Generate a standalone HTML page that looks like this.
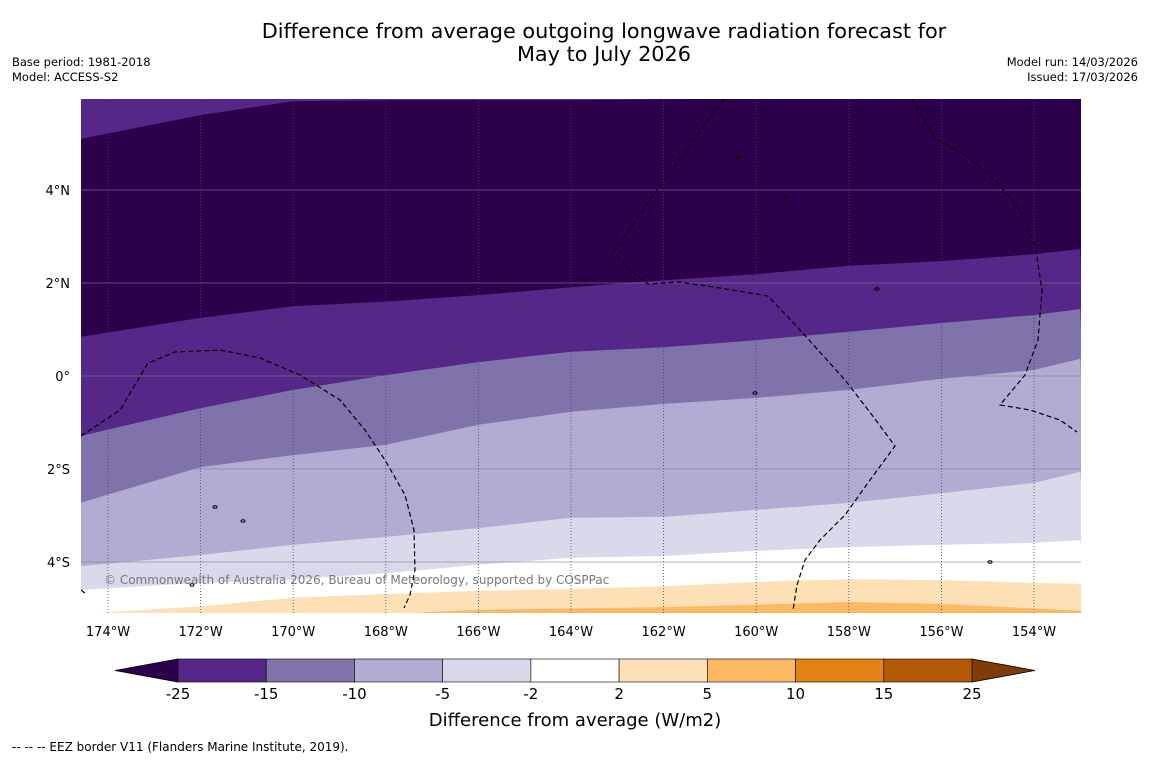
<!DOCTYPE html>
<html><head><meta charset="utf-8"><style>
body{margin:0;background:#fff;font-family:"Liberation Sans","DejaVu Sans",sans-serif;}
svg text{font-family:"DejaVu Sans","Liberation Sans",sans-serif;}
</style></head><body>
<svg id="chart" width="1150" height="758" xmlns="http://www.w3.org/2000/svg">
<rect width="1150" height="758" fill="#fff"/>
<text x="604" y="38" font-size="20.8" text-anchor="middle">Difference from average outgoing longwave radiation forecast for</text>
<text x="604" y="61" font-size="20.8" text-anchor="middle">May to July 2026</text>
<text x="12" y="66" font-size="11.5">Base period: 1981-2018</text>
<text x="12" y="81" font-size="11.5">Model: ACCESS-S2</text>
<text x="1138" y="66" font-size="11.5" text-anchor="end">Model run: 14/03/2026</text>
<text x="1138" y="81" font-size="11.5" text-anchor="end">Issued: 17/03/2026</text>
<defs><clipPath id="mapclip"><rect x="81" y="99" width="1000" height="514"/></clipPath></defs>
<g id="map" clip-path="url(#mapclip)"></g>
<g id="axes"></g>
<g id="cbar"></g>
<text x="575" y="726" font-size="18" text-anchor="middle">Difference from average (W/m2)</text>
<text x="12" y="751" font-size="12">--  --  -- EEZ border V11 (Flanders Marine Institute, 2019).</text>
</svg>
<script>
const lons = [-174.6,-172,-170,-168,-166,-164,-162,-160,-158,-156,-154,-153];
const topBoundary = [5.1,5.61,5.91,5.93,5.93,5.93,5.95,5.97,5.97,5.97,5.97,5.97];
const b_m25_m15 = [0.84,1.25,1.5,1.6,1.74,1.91,2.06,2.19,2.37,2.47,2.62,2.73];
const b_m15_m10 = [-1.29,-0.69,-0.3,0.02,0.3,0.52,0.62,0.77,0.95,1.14,1.31,1.44];
const b_m10_m5 = [-2.73,-1.96,-1.7,-1.48,-1.05,-0.77,-0.6,-0.47,-0.3,-0.06,0.13,0.37];
const b_m5_m2 = [-4.09,-3.85,-3.63,-3.46,-3.27,-3.05,-3.03,-2.88,-2.73,-2.52,-2.3,-2.06];
const b_m2_2 = [-4.6,-4.45,-4.37,-4.24,-4.06,-3.91,-3.87,-3.76,-3.68,-3.63,-3.59,-3.53];
const b_2_5 = [-5.12,-4.95,-4.77,-4.69,-4.62,-4.58,-4.52,-4.43,-4.37,-4.39,-4.45,-4.47];
const b_5_10 = [-5.3,-5.3,-5.2,-5.12,-5.03,-5.0,-4.97,-4.92,-4.86,-4.9,-5.0,-5.05];
const lonTicks = [-174,-172,-170,-168,-166,-164,-162,-160,-158,-156,-154];
const latTicks = [4,2,0,-2,-4];
const cbLevels = ["-25","-15","-10","-5","-2","2","5","10","15","25"];
const cbColors = ["#542788","#8073ac","#b2abd2","#d8daeb","#ffffff","#fee0b6","#fdb863","#e08214","#b35806"];

const NS="http://www.w3.org/2000/svg";
const X = lon => 108 + (lon + 174) * 46.3;
const Y = lat => 376 - lat * 46.5;
function mk(tag, attrs, parent){const e=document.createElementNS(NS,tag);for(const k in attrs)e.setAttribute(k,attrs[k]);parent.appendChild(e);return e;}
const map=document.getElementById('map');
const axes=document.getElementById('axes');
function line(b){return lons.map((l,i)=>X(l).toFixed(1)+','+Y(b[i]).toFixed(1)).join(' L');}
let bg=mk('rect',{x:81,y:99,width:1000,height:514,fill:'#2d004b'},map);


let tp=mk('path',{d:'M'+line(topBoundary)+' L1090,90 L70,90 Z',fill:'#542788'},map);


const bands=[[b_m25_m15,'#542788'],[b_m15_m10,'#8073ac'],[b_m10_m5,'#b2abd2'],[b_m5_m2,'#d8daeb'],[b_m2_2,'#ffffff'],[b_2_5,'#fee0b6'],[b_5_10,'#fdb863']];
bands.forEach((b,i)=>{
  const p=mk('path',{d:'M'+line(b[0])+' L1090,620 L70,620 Z',fill:b[1]},map);
  
  
});
latTicks.forEach(t=>{
  const l=mk('line',{x1:81,x2:1081,y1:Y(t),y2:Y(t),stroke:'#808090','stroke-width':0.7,'stroke-opacity':0.8},map);
  
  
  const tx=mk('text',{x:70,y:Y(t)+5,'font-size':13,'text-anchor':'end'},axes);
  tx.textContent=t===0?'0°':Math.abs(t)+'°'+(t>0?'N':'S');
  
  
});
lonTicks.forEach(t=>{
  const l=mk('line',{x1:X(t),x2:X(t),y1:99,y2:613,stroke:'#44448a','stroke-width':0.8,'stroke-dasharray':'1,2'},map);
  
  
  const tx=mk('text',{x:X(t),y:636,'font-size':13,'text-anchor':'middle'},axes);
  tx.textContent=Math.abs(t)+'°W';
  
  
});
const eez=["M81,436 L120,410 L148,363 L175,352 L220,350 L260,358 L300,375 L340,400 L365,430 L385,460 L405,495 L414,530 L415,570 L410,595 L404,608",
"M724,99 L690,145 L650,200 L614,252 L630,270 L648,284 L680,282 L720,288 L768,296 L800,330 L845,380 L872,415 L895,446 L870,480 L845,515 L820,540 L805,560 L797,585 L793,610",
"M912,99 L935,138 L965,155 L995,180 L1020,210 L1035,245 L1042,290 L1038,340 L1025,375 L1000,405 L1030,410 L1060,420 L1077,432",
"M81,590 L86,594"];
eez.forEach(d=>{const p=mk('path',{d:d,fill:'none',stroke:'#000','stroke-width':1.2,'stroke-dasharray':'5,3'},map);

});
[[215,507],[243,521],[192,585],[786,197],[877,289],[738,157],[990,562],[755,393]].forEach(c=>{
const e=mk('ellipse',{cx:c[0],cy:c[1],rx:2,ry:1.3,fill:'none',stroke:'#000','stroke-width':1},map);

});
const cp=mk('text',{x:104,y:584,'font-size':12,fill:'#777'},map);
cp.textContent='© Commonwealth of Australia 2026, Bureau of Meteorology, supported by COSPPac';


const cb=document.getElementById('cbar');
const x0=178,x1=972,cy0=659,cy1=682,w=(x1-x0)/cbColors.length;
const lt=mk('path',{d:`M${x0},${cy0} L115,${(cy0+cy1)/2} L${x0},${cy1} Z`,fill:'#2d004b',stroke:'#000','stroke-width':0.8},cb);


const rt=mk('path',{d:`M${x1},${cy0} L1035,${(cy0+cy1)/2} L${x1},${cy1} Z`,fill:'#7f3b08',stroke:'#000','stroke-width':0.8},cb);


cbColors.forEach((c,i)=>{const r=mk('rect',{x:x0+i*w,y:cy0,width:w,height:cy1-cy0,fill:c,stroke:'#000','stroke-width':0.6},cb);

});
cbLevels.forEach((v,i)=>{const t=mk('text',{x:x0+i*w,y:699,'font-size':15,'text-anchor':'middle'},cb);t.textContent=v;

});
</script>
</body></html>
